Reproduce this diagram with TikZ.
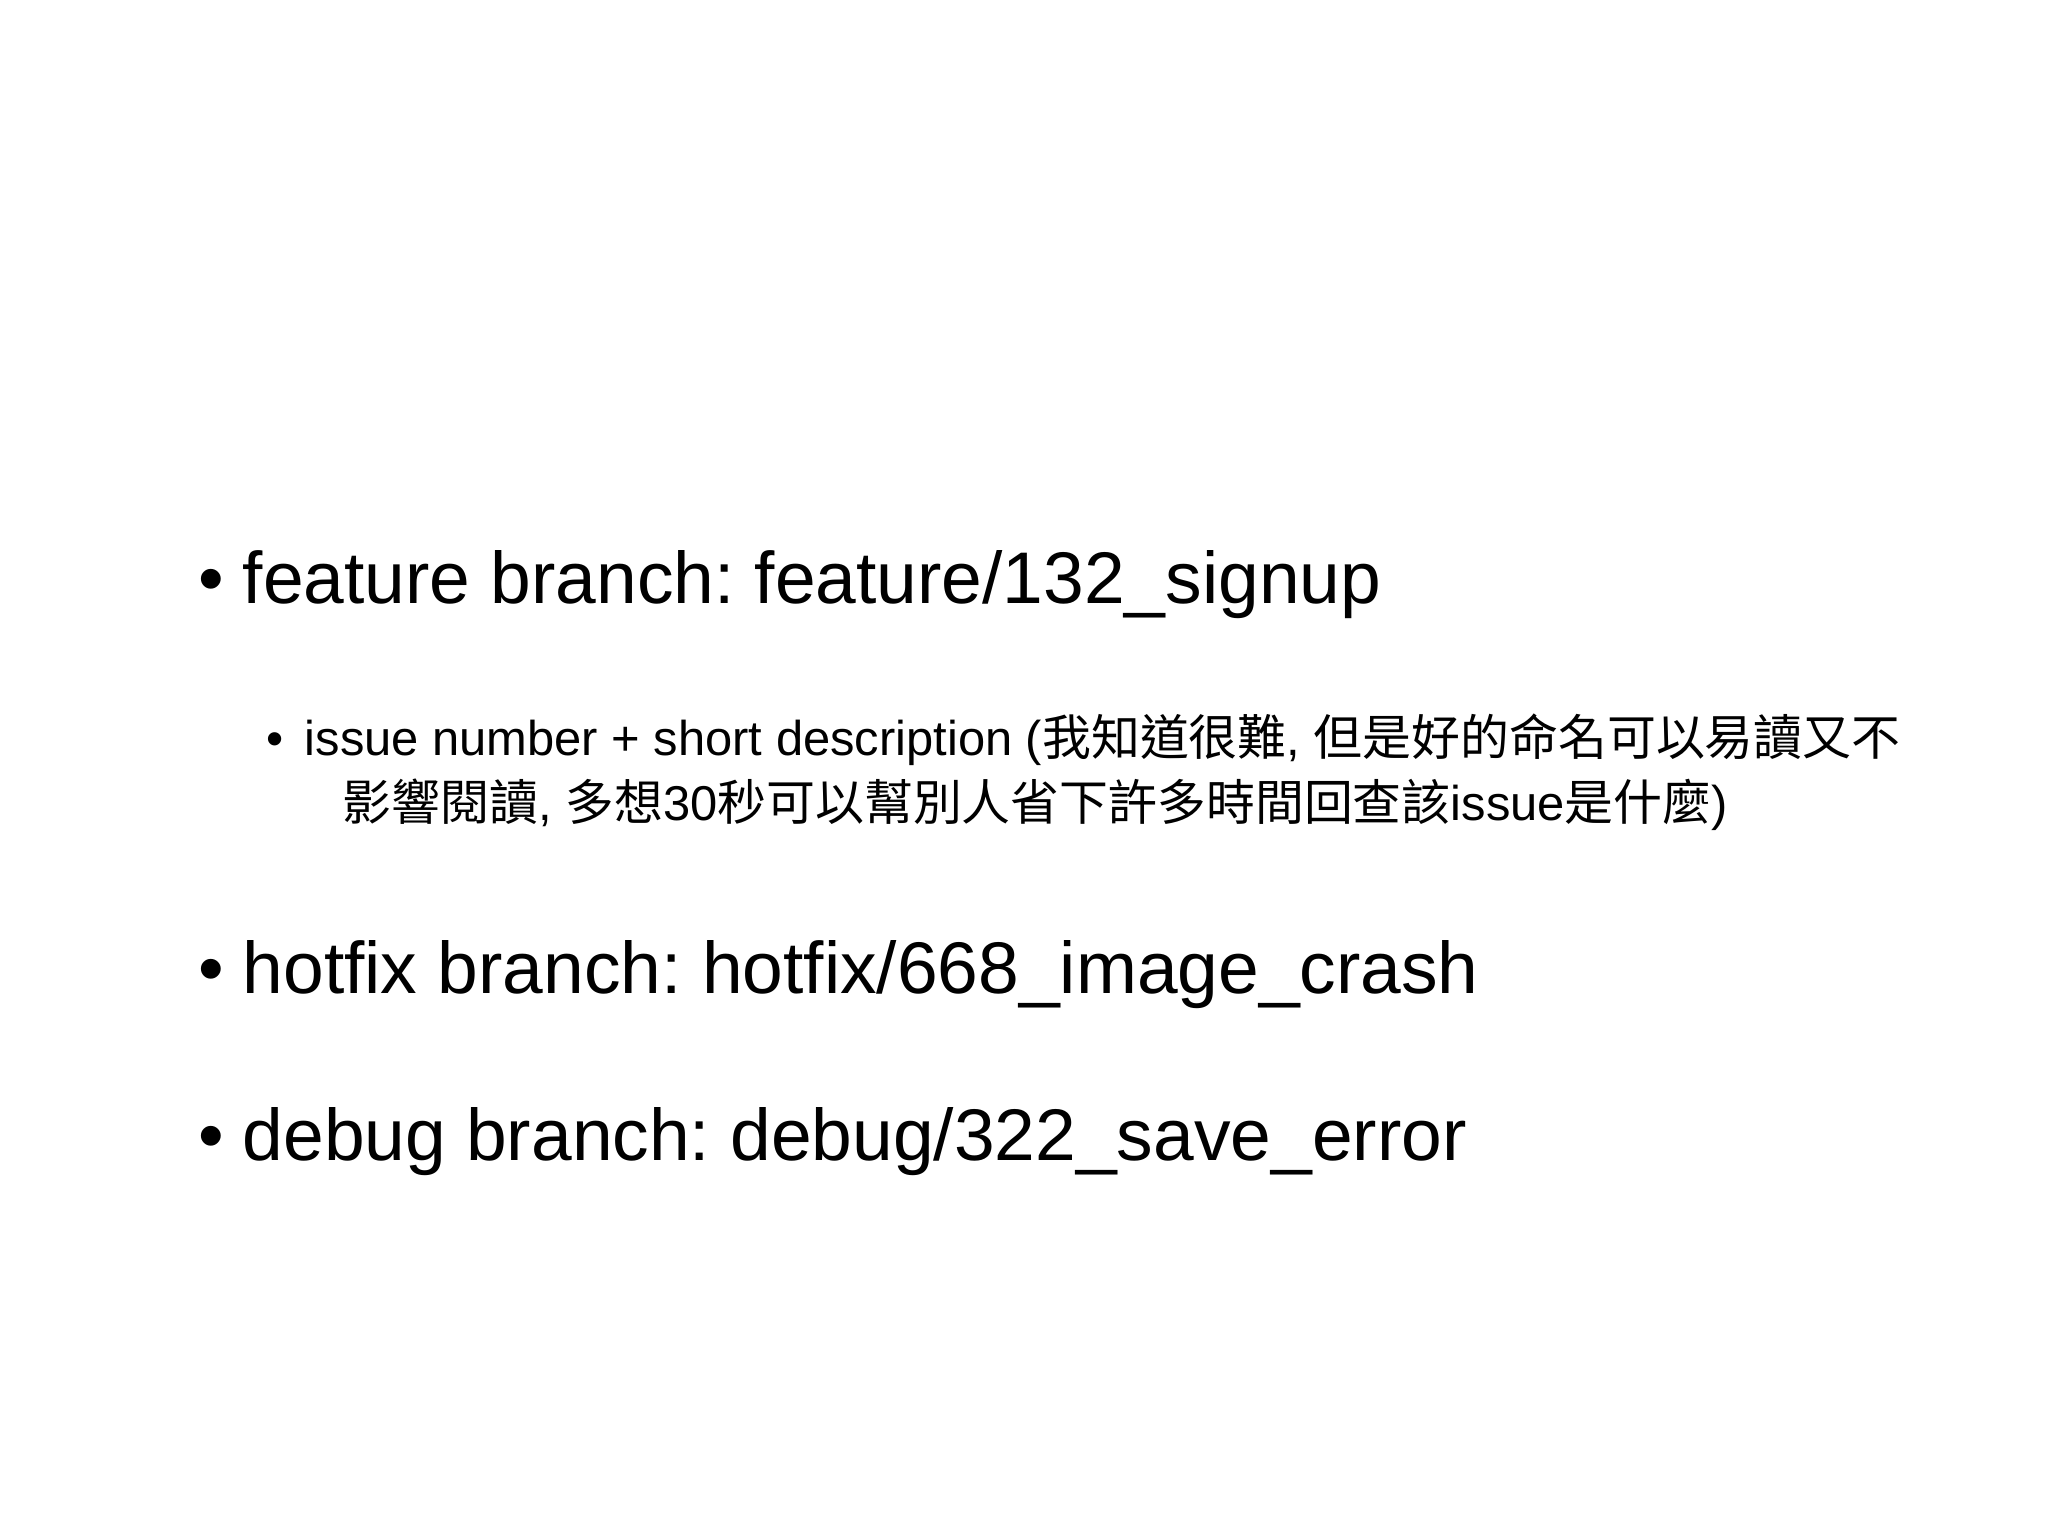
\documentclass[tikz,border=0pt]{standalone}
\usepackage{fontspec}
\setmainfont{Liberation Sans}
\newfontfamily\cjk{Noto Sans CJK TC}
\frenchspacing
\begin{document}
\begin{tikzpicture}[x=0.01cm,y=-0.01cm,
  big/.style={anchor=base west,inner sep=0,font=\fontsize{20.8}{26}\selectfont},
  small/.style={anchor=base west,inner sep=0,font=\fontsize{13.9}{18}\selectfont}]
\useasboundingbox[fill=white] (0,0) rectangle (2048,1536);
\node[big] (b1) at (198,603) {•};
\node[big] (t1) at (242,603) {feature branch: feature/132\_signup};
\node[small] (b1a) at (266,755) {•};
\node[small] (t1a) at (304,755) {issue number + short description ({\cjk 我知道很難}, {\cjk 但是好的命名可以易讀又不}};
\node[small] (t1b) at (342,820) {{\cjk 影響閱讀}, {\cjk 多想}30{\cjk 秒可以幫別人省下許多時間回查該}issue{\cjk 是什麼})};
\node[big] (b2) at (198,993) {•};
\node[big] (t2) at (242,993) {hotfix branch: hotfix/668\_image\_crash};
\node[big] (b3) at (198,1160) {•};
\node[big] (t3) at (242,1160) {debug branch: debug/322\_save\_error};
\end{tikzpicture}
\end{document}
